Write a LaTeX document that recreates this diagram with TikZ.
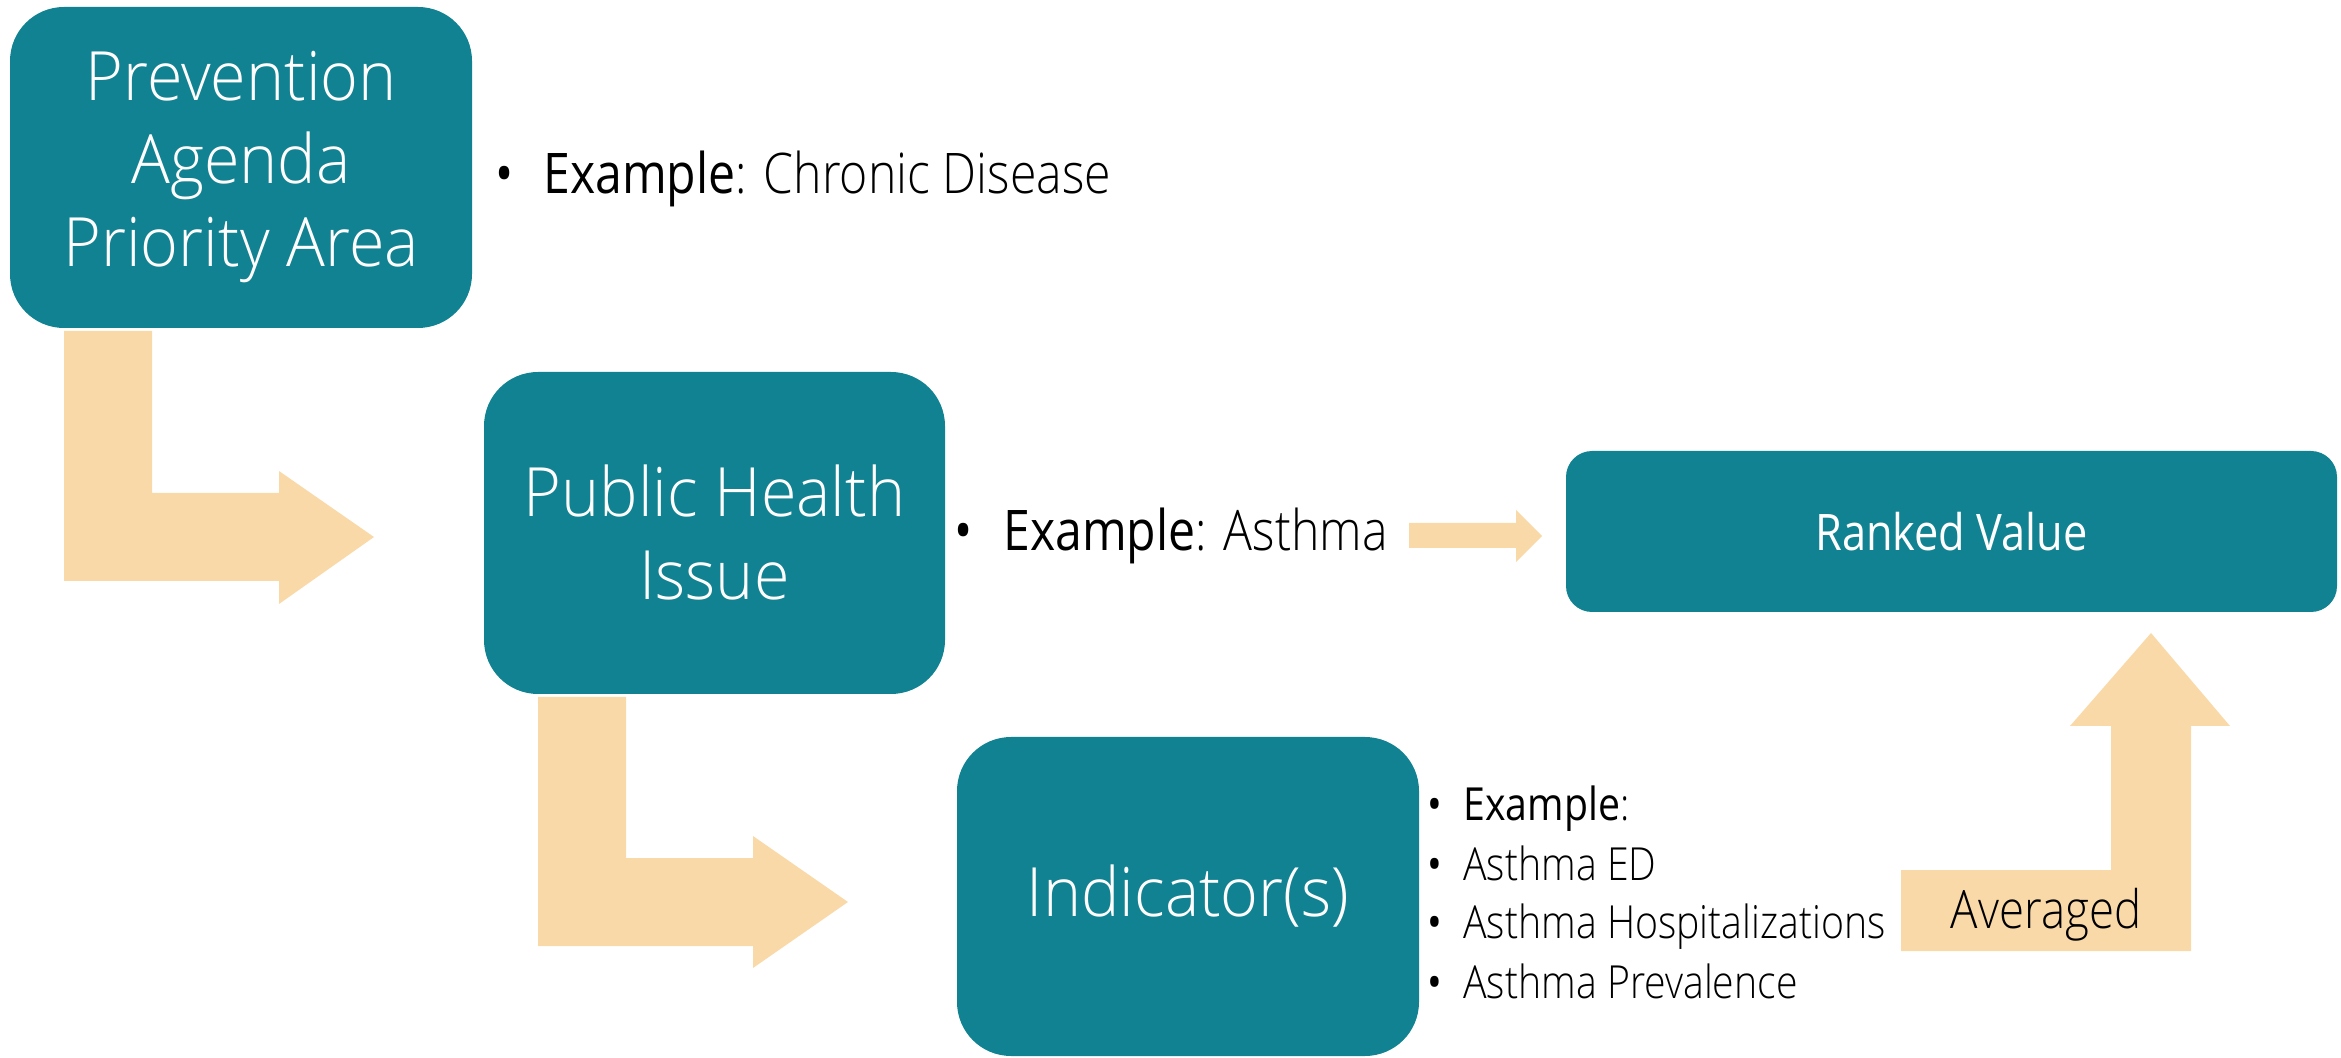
\documentclass[tikz,border=0pt]{standalone}
\usepackage{fontspec}
\setmainfont{Open Sans}[FakeStretch=0.86]
\newfontfamily\lightfont{Open Sans Light}[FakeStretch=0.86]
\newfontfamily\boxfont{Open Sans Light}[FakeStretch=0.95]
\definecolor{teal}{RGB}{16,130,145}
\definecolor{peach}{RGB}{250,217,168}
\tikzset{
  tbox/.style={fill=teal, draw=none, rounded corners=27pt, text=white, align=center, inner sep=0pt},
  bigtext/.style={font=\boxfont\fontsize{34}{41.5}\selectfont},
  blockarrow/.style={fill=peach, draw=none},
  extext/.style={anchor=base west, inner sep=0pt, font=\fontsize{28}{34}\selectfont},
  bul/.style={anchor=base, inner sep=0pt},
  lsttext/.style={anchor=base west, inner sep=0pt, font=\fontsize{22.8}{27}\selectfont},
  lstlight/.style={lsttext, font=\lightfont\fontsize{22.8}{27}\selectfont}
}
\begin{document}
\begin{tikzpicture}[x=0.5pt,y=-0.5pt]
\useasboundingbox (0,0) rectangle (2341,1058);
% boxes
\node[tbox, bigtext, minimum width=231pt, minimum height=160.5pt] (pa) at (241,167.5) {Prevention\\Agenda\\Priority Area};
\node[tbox, bigtext, minimum width=230.5pt, minimum height=161pt] (ph) at (714.5,533) {Public Health\\Issue};
\node[tbox, bigtext, minimum width=231pt, minimum height=159.5pt] (ind) at (1188,896.5) {Indicator(s)};
\node[tbox, rounded corners=13pt, minimum width=385.5pt, minimum height=80.5pt, font=\fontsize{25.2}{30}\selectfont] (rv) at (1951.5,531.5) {Ranked Value};
% block arrows
\fill[blockarrow] (64,331) -- (152,331) -- (152,493) -- (279,493) -- (279,471) -- (374,537) -- (279,604) -- (279,581) -- (64,581) -- cycle;
\fill[blockarrow] (538,697) -- (626,697) -- (626,858) -- (753,858) -- (753,836) -- (848,902) -- (753,968) -- (753,946) -- (538,946) -- cycle;
\fill[blockarrow] (1409,523) -- (1516,523) -- (1516,510) -- (1542,536) -- (1516,562) -- (1516,548) -- (1409,548) -- cycle;
\fill[blockarrow] (1901,870) -- (2111,870) -- (2111,726) -- (2070,726) -- (2151,633) -- (2230,726) -- (2191,726) -- (2191,951) -- (1901,951) -- cycle;
\node[anchor=base, inner sep=0pt, font=\lightfont\fontsize{26.5}{30}\selectfont] (avg) at (2046,928) {Averaged};
% example 1
\node[bul, font=\fontsize{28}{34}\selectfont] (b1) at (505,194) {•};
\node[extext] (e1) at (543,194) {Example{\lightfont: Chronic Disease}};
% example 2
\node[bul, font=\fontsize{28}{34}\selectfont] (b2) at (964,551) {•};
\node[extext] (e2) at (1003,551) {Example{\lightfont: Asthma}};
% list
\node[bul, font=\fontsize{22.8}{27}\selectfont] (b3) at (1435,820) {•};
\node[lsttext] (l1) at (1463,820) {Example{\lightfont :}};
\node[bul, font=\fontsize{22.8}{27}\selectfont] (b4) at (1435,880) {•};
\node[lstlight] (l2) at (1463,880) {Asthma ED};
\node[bul, font=\fontsize{22.8}{27}\selectfont] (b5) at (1435,938) {•};
\node[lstlight] (l3) at (1463,938) {Asthma Hospitalizations};
\node[bul, font=\fontsize{22.8}{27}\selectfont] (b6) at (1435,998) {•};
\node[lstlight] (l4) at (1463,998) {Asthma Prevalence};
\end{tikzpicture}
\end{document}
